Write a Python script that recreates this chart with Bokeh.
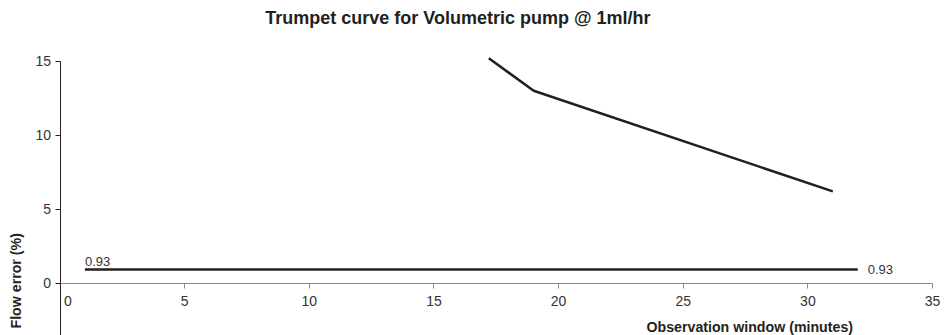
import math
from bokeh.plotting import figure
from bokeh.models import Label, FixedTicker, Range1d
from bokeh.embed import file_html
from bokeh.resources import INLINE

# ---- data ----
title_text = "Trumpet curve for Volumetric pump @ 1ml/hr"
x_title = "Observation window (minutes)"
y_title = "Flow error (%)"
window_min = [17.2, 19, 31]        # observation window (min), visible part of the curve
max_error = [15.2, 13.0, 6.2]      # max flow error (%)
mean_x = [1, 32]                   # extent of overall mean error line
mean_error = [0.93, 0.93]          # overall mean flow error (%)
mean_label = "0.93"
x_ticks = [0, 5, 10, 15, 20, 25, 30, 35]
y_ticks = [0, 5, 10, 15]

FONT = "Liberation Sans"
INK = "#231f20"

p = figure(width=945, height=335, output_backend="svg", toolbar_location=None,
           x_range=Range1d(-2.387, 35.52), y_range=Range1d(-3.534, 19.10),
           min_border=0)
p.title.visible = False
p.grid.visible = False
p.outline_line_color = None
p.background_fill_color = "white"

# x axis sitting at y = 0 inside the frame
xa = p.xaxis[0]
xa.fixed_location = 0
xa.bounds = (0, 35)
xa.ticker = FixedTicker(ticks=x_ticks)
xa.axis_line_color = "#8a8a8a"
xa.major_tick_line_color = "#8a8a8a"
xa.major_tick_in = 0
xa.major_tick_out = 5
xa.minor_tick_line_color = None
xa.major_label_text_font = FONT
xa.major_label_text_font_size = "14px"
xa.major_label_text_color = "#333333"
xa.major_label_standoff = 5
xa.major_label_overrides = {0: "\u00a0\u00a0\u00a0\u00a00"}

# y axis sitting at x = 0 inside the frame
ya = p.yaxis[0]
ya.fixed_location = 0
ya.bounds = (-3.6, 15)
ya.ticker = FixedTicker(ticks=y_ticks)
ya.axis_line_color = INK
ya.major_tick_line_color = INK
ya.major_tick_in = 0
ya.major_tick_out = 5
ya.minor_tick_line_color = None
ya.major_label_text_font = FONT
ya.major_label_text_font_size = "14px"
ya.major_label_text_color = "#333333"
ya.major_label_standoff = 4

# data lines
p.line(window_min, max_error, line_width=2.5, line_color=INK)
p.line(mean_x, mean_error, line_width=2.5, line_color=INK)

# value labels on the mean line
p.add_layout(Label(x=mean_x[0], y=mean_error[0], text=mean_label, text_font=FONT,
                   text_font_size="13px", text_color="#333333",
                   text_baseline="bottom", text_align="left", y_offset=3))
p.add_layout(Label(x=mean_x[1], y=mean_error[1], text=mean_label, text_font=FONT,
                   text_font_size="13px", text_color="#333333",
                   text_baseline="middle", text_align="left", x_offset=10))

# titles
p.add_layout(Label(x=15.96, y=17.95, text=title_text, text_font=FONT,
                   text_font_size="18px", text_font_style="bold", text_color=INK,
                   text_align="center", text_baseline="middle"))
p.add_layout(Label(x=31.81, y=-2.93, text=x_title, text_font=FONT,
                   text_font_size="14.2px", text_font_style="bold", text_color=INK,
                   text_align="right", text_baseline="middle"))
p.add_layout(Label(x=-1.785, y=-3.06, text=y_title, text_font=FONT, angle=math.pi / 2,
                   text_font_size="14.2px", text_font_style="bold", text_color=INK,
                   text_align="left", text_baseline="middle"))

open("out.html", "w").write(file_html(p, INLINE))
